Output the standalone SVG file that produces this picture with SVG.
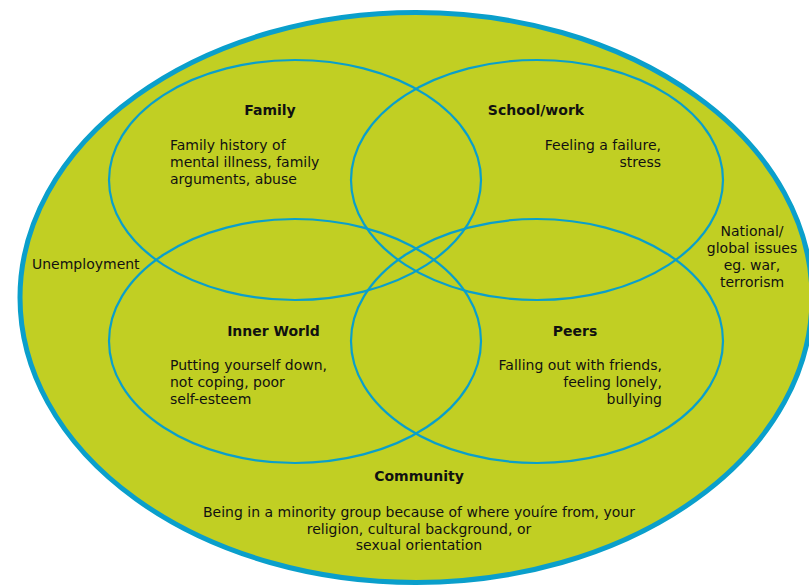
<svg xmlns="http://www.w3.org/2000/svg" width="809" height="587" viewBox="0 0 809 587">
<style>
.ring{fill:none;stroke:#0a9fcb;stroke-width:2.2}
.t{font-family:"DejaVu Sans",Verdana,sans-serif;font-size:14px;fill:#111}
.b{font-weight:bold}
.m{text-anchor:middle}
.e{text-anchor:end}
</style>
<rect width="809" height="587" fill="#ffffff"/>
<g id="community">
<ellipse cx="416" cy="297.5" rx="396" ry="285" fill="#c1cf23" stroke="#0a9fcb" stroke-width="5"/>
<text class="t b m" x="419" y="481">Community</text>
<text class="t m" x="419" y="517">Being in a minority group because of where youíre from, your</text>
<text class="t m" x="419" y="533.5">religion, cultural background, or</text>
<text class="t m" x="419" y="550">sexual orientation</text>
</g>
<g id="unemployment"><text class="t" x="32" y="269">Unemployment</text></g>
<g id="national"><text class="t m" x="752" y="236">National/</text><text class="t m" x="752" y="253">global issues</text><text class="t m" x="752" y="270">eg. war,</text><text class="t m" x="752" y="287">terrorism</text></g>
<g id="connectors"></g>
<g id="family">
<ellipse class="ring" cx="295" cy="180" rx="186" ry="120"/>
<text class="t b m" x="270" y="115">Family</text>
<text class="t" x="170" y="150">Family history of</text>
<text class="t" x="170" y="167">mental illness, family</text>
<text class="t" x="170" y="184">arguments, abuse</text>
</g>
<g id="school">
<ellipse class="ring" cx="537" cy="180" rx="186" ry="120"/>
<text class="t b m" x="536" y="115">School/work</text>
<text class="t e" x="661" y="150">Feeling a failure,</text>
<text class="t e" x="661" y="167">stress</text>
</g>
<g id="inner">
<ellipse class="ring" cx="295" cy="341" rx="186" ry="122"/>
<text class="t b m" x="273.5" y="336">Inner World</text>
<text class="t" x="170" y="370">Putting yourself down,</text>
<text class="t" x="170" y="387">not coping, poor</text>
<text class="t" x="170" y="404">self-esteem</text>
</g>
<g id="peers">
<ellipse class="ring" cx="537" cy="341" rx="186" ry="122"/>
<text class="t b m" x="575" y="336">Peers</text>
<text class="t e" x="662" y="370">Falling out with friends,</text>
<text class="t e" x="662" y="387">feeling lonely,</text>
<text class="t e" x="662" y="404">bullying</text>
</g>
</svg>
